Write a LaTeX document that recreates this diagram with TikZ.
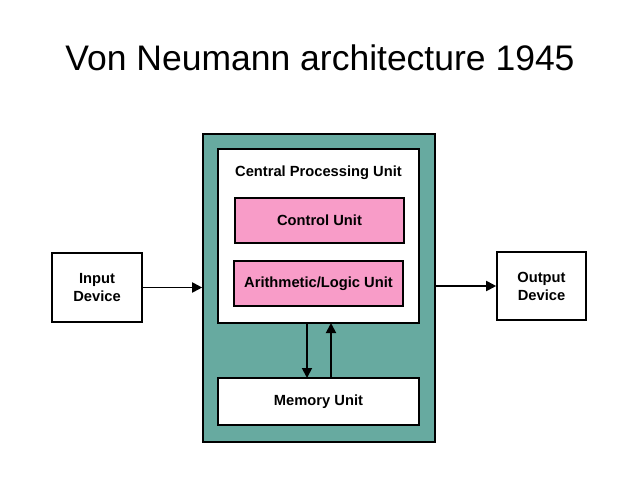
\documentclass[tikz,border=0pt]{standalone}
\usepackage{fontspec}
\setmainfont{Liberation Sans}
\usetikzlibrary{arrows.meta}
\definecolor{teal1}{HTML}{67AAA0}
\definecolor{pink1}{HTML}{F89CC8}
\begin{document}
\begin{tikzpicture}[x=1pt,y=-1pt,
  box/.style={draw=black,line width=1.6pt,inner sep=0pt,font=\fontsize{14.7}{18}\selectfont\bfseries,align=center},
  arr/.style={line width=1.8pt,-{Triangle[length=10pt,width=10pt]}}]
\useasboundingbox (0,0) rectangle (640,480);
\node (title) at (320,58) {\fontsize{35.5}{40}\selectfont Von Neumann architecture 1945};
\node[box,fill=teal1,minimum width=232pt,minimum height=308pt] (outer) at (319,288) {};
\node[box,fill=white,minimum width=201pt,minimum height=174pt] (cpu) at (318.5,236) {};
\node[font=\fontsize{14.7}{18}\selectfont\bfseries] (cpul) at (318.5,173) {Central Processing Unit};
\node[box,fill=pink1,minimum width=169pt,minimum height=45pt] (cu) at (319.5,220.5) {Control Unit};
\node[box,fill=pink1,minimum width=169pt,minimum height=45pt] (alu) at (318.5,283.5) {Arithmetic/Logic Unit};
\node[box,fill=white,minimum width=201pt,minimum height=47pt] (mem) at (318.5,401.5) {Memory Unit};
\node[box,fill=white,minimum width=90pt,minimum height=69pt] (in) at (97,287.5) {Input\\Device};
\node[box,fill=white,minimum width=89pt,minimum height=68pt] (out) at (541.5,286) {Output\\Device};
\coordinate (d1) at (307,323);
\coordinate (d2) at (307,378);
\coordinate (u1) at (331,378);
\coordinate (u2) at (331,323);
\draw[arr] (d1) -- (d2);
\draw[arr] (u1) -- (u2);
\draw[arr] (in.east) -- (in.east -| outer.west);
\draw[arr] (out.west -| outer.east) -- (out.west);
\end{tikzpicture}
\end{document}
